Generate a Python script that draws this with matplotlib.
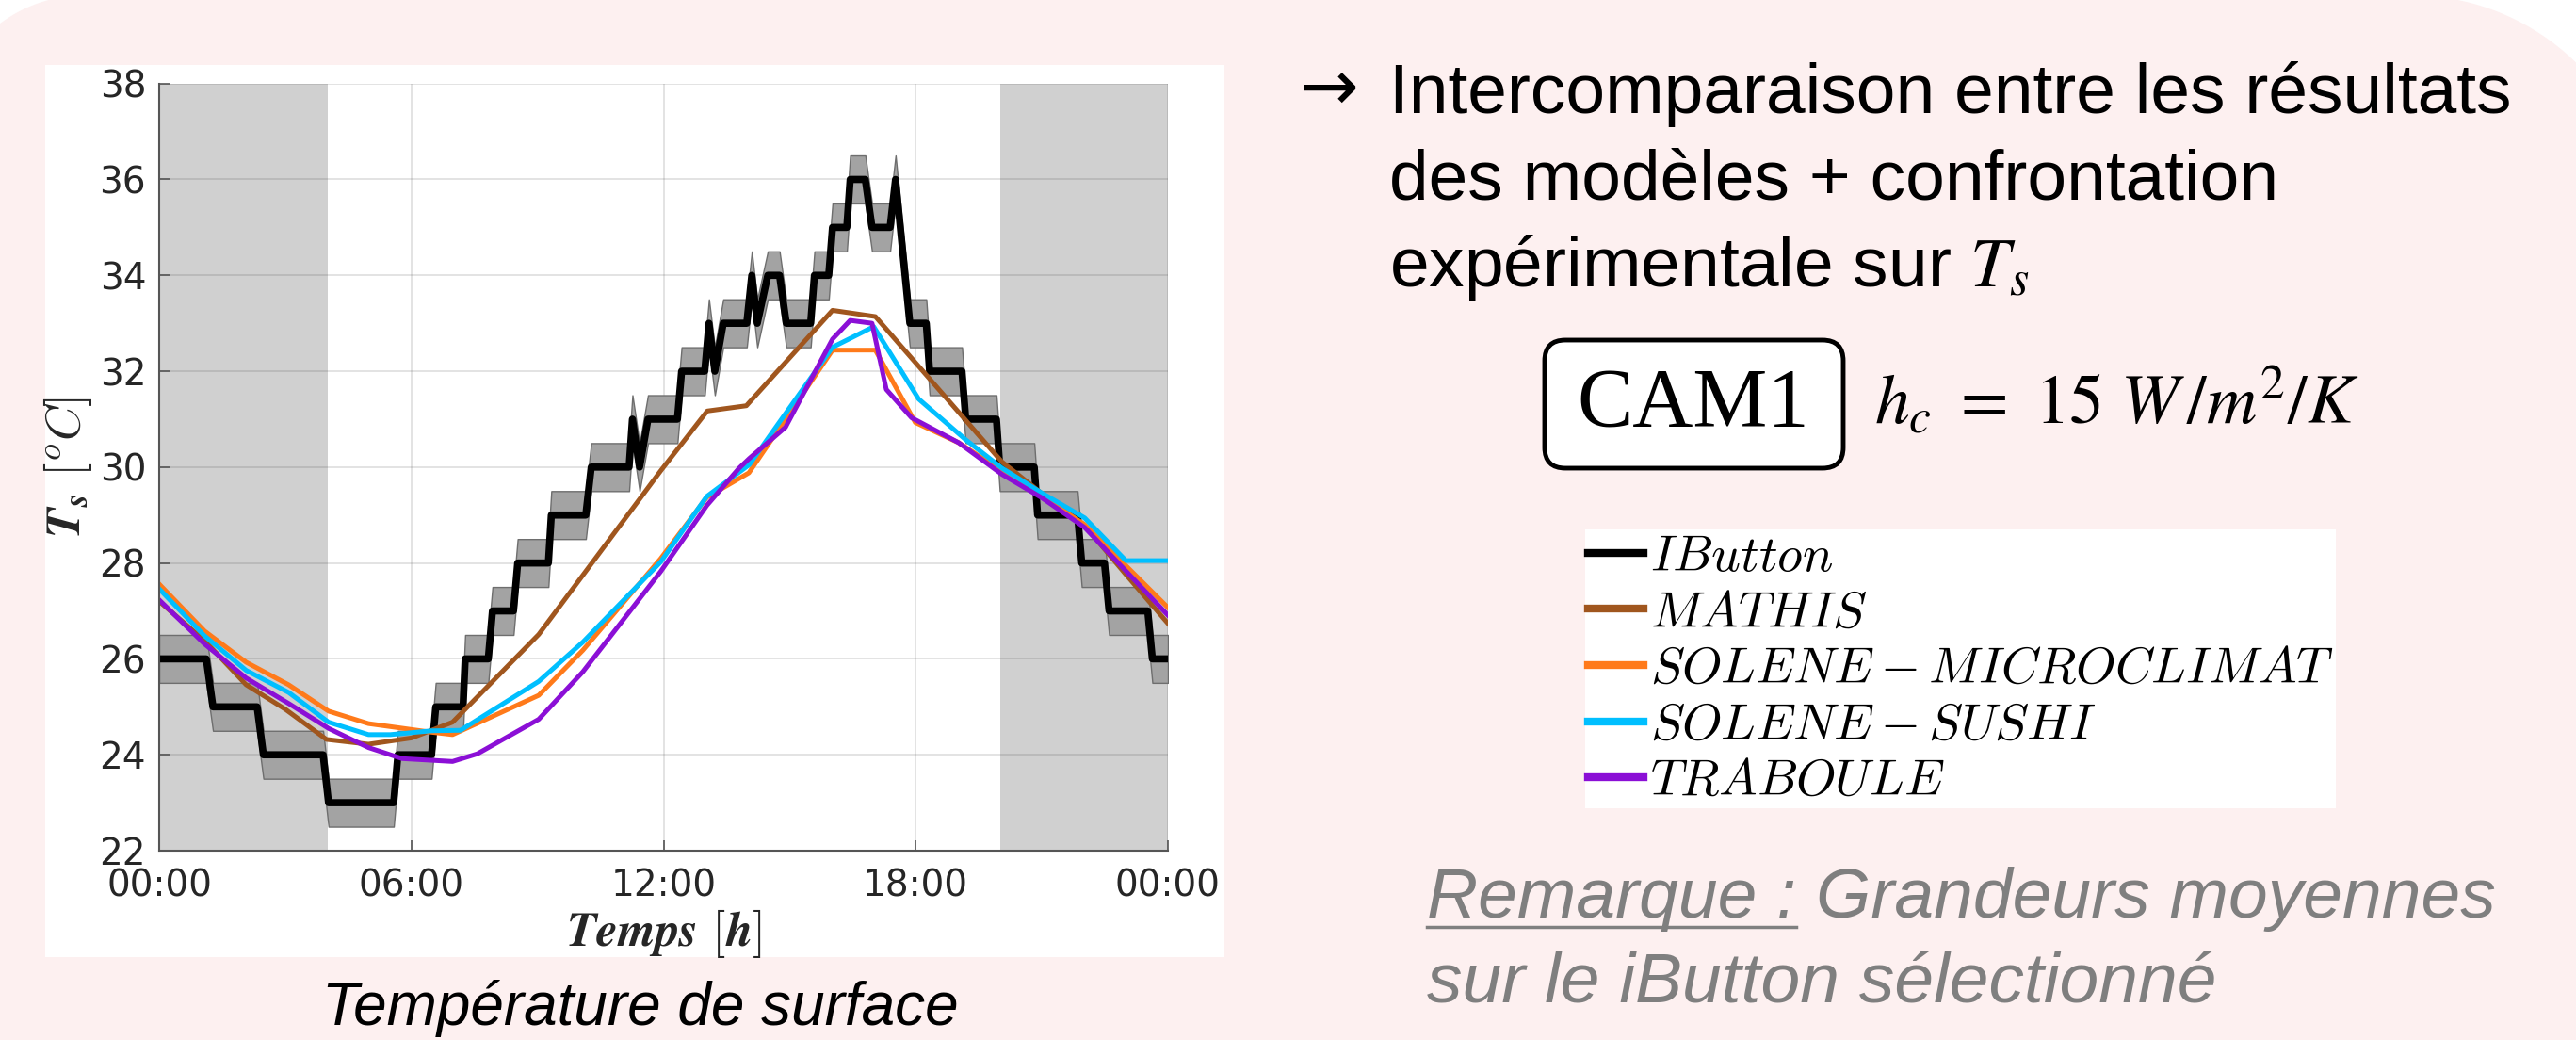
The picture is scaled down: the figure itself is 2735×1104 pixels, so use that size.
import numpy as np
import matplotlib
matplotlib.use('Agg')
import matplotlib.pyplot as plt
from matplotlib.patches import Polygon, Rectangle, FancyBboxPatch
from matplotlib.lines import Line2D

plt.rcParams['font.family'] = 'DejaVu Sans'
plt.rcParams['mathtext.fontset'] = 'cm'

W, H = 2735, 1104   # taille de l'image en pixels (dpi = 100)

# --- Données (heure, température de surface) ---
ibutton_t = [0, 1.12, 1.28, 2.33, 2.48, 3.9, 4.03, 5.58, 5.68, 6.48, 6.58, 7.23, 7.28, 7.83,
             7.93, 8.43, 8.53, 9.26, 9.33, 10.15, 10.28, 11.18, 11.26, 11.43, 11.63, 12.33,
             12.43, 12.98, 13.08, 13.22, 13.42, 13.98, 14.1, 14.23, 14.48, 14.76, 14.92,
             15.5, 15.59, 15.93, 16.02, 16.36, 16.44, 16.8, 16.96, 17.39, 17.52, 17.86,
             18.25, 18.33, 19.1, 19.19, 19.92, 20.0, 20.82, 20.9, 21.85, 21.95, 22.49,
             22.6, 23.52, 23.63, 24.0]
ibutton_T = [26, 26, 25, 25, 24, 24, 23, 23, 24, 24, 25, 25, 26, 26,
             27, 27, 28, 28, 29, 29, 30, 30, 31, 30, 31, 31,
             32, 32, 33, 32, 33, 33, 34, 33, 34, 34, 33,
             33, 34, 34, 35, 35, 36, 36, 35, 35, 36, 33,
             33, 32, 32, 31, 31, 30, 30, 29, 29, 28, 28,
             27, 27, 26, 26]
ibutton_err = 0.5

mathis_t = [0, 1.08, 2.07, 3.0, 3.98, 4.98, 6.0, 6.48, 6.98, 9.03, 11.93, 13.04, 13.97,
            16.02, 17.04, 20.05, 21.0, 22.02, 23.0, 24.0]
mathis_T = [27.2, 26.38, 25.46, 24.95, 24.32, 24.22, 24.35, 24.51, 24.68, 26.51, 29.92,
            31.17, 31.28, 33.27, 33.14, 30.11, 29.45, 28.78, 27.76, 26.74]

micro_t = [0, 1.08, 2.07, 3.08, 4.03, 4.98, 6.48, 6.98, 9.03, 10.08, 11.93, 13.03, 14.03,
           16.02, 17.04, 17.99, 19.02, 20.05, 21.0, 22.02, 24.0]
micro_T = [27.56, 26.58, 25.93, 25.46, 24.91, 24.65, 24.47, 24.42, 25.24, 26.18, 28.09,
           29.37, 29.88, 32.44, 32.44, 30.93, 30.51, 29.92, 29.39, 28.8, 27.07]

sushi_t = [0, 1.08, 2.07, 3.08, 4.03, 4.98, 5.5, 6.48, 7.17, 9.03, 10.08, 11.93, 13.03,
           14.04, 16.02, 17.0, 18.07, 19.19, 20.05, 21.0, 22.02, 23.0, 24.0]
sushi_T = [27.46, 26.48, 25.76, 25.3, 24.68, 24.42, 24.42, 24.5, 24.51, 25.53, 26.35,
           28.02, 29.39, 30.05, 32.5, 32.93, 31.42, 30.57, 29.98, 29.46, 28.94, 28.05, 28.05]

traboule_t = [0, 1.08, 2.07, 3.08, 4.03, 4.98, 5.78, 6.98, 7.57, 9.03, 10.08, 11.93, 13.03,
              13.8, 14.04, 14.9, 16.02, 16.44, 16.96, 17.3, 17.9, 19.02, 20.05, 21.0,
              22.02, 24.0]
traboule_T = [27.23, 26.31, 25.6, 25.07, 24.55, 24.15, 23.92, 23.86, 24.02, 24.74, 25.73,
              27.82, 29.2, 29.98, 30.18, 30.83, 32.67, 33.06, 33.0, 31.62, 31.03, 30.51,
              29.85, 29.36, 28.74, 26.91]

nuit = [(0, 4.0), (20.0, 24.0)]
xticks = [0, 6, 12, 18, 24]
xtick_labels = ['00:00', '06:00', '12:00', '18:00', '00:00']
yticks = [22, 24, 26, 28, 30, 32, 34, 36, 38]

noms = [r'$IButton$', r'$MATHIS$', r'$SOLENE-MICROCLIMAT$', r'$SOLENE-SUSHI$', r'$TRABOULE$']
couleurs = ['#000000', '#A0561E', '#FF7A1A', '#00BFFF', '#8B0FD6']


def fx(x):
    return x / W


def fy(y):
    return 1 - y / H


fig = plt.figure(figsize=(W / 100, H / 100), dpi=100, facecolor='white')
pouce = fig.dpi_scale_trans

# fond rose arrondi (coordonnées en pixels -> pouces)
a1 = np.linspace(np.pi, np.pi / 2, 40)
a2 = np.linspace(np.pi / 2, 0, 40)
pts = [(90 + 150 * np.cos(a), 145 - 150 * np.sin(a)) for a in a1]
pts += [(2560 + 250 * np.cos(a), 245 - 250 * np.sin(a)) for a in a2]
pts += [(2810, 1200), (-60, 1200)]
pts = [(x / 100, (H - y) / 100) for x, y in pts]
fig.add_artist(Polygon(pts, closed=True, facecolor='#FDF0F0', edgecolor='none',
                       transform=pouce, zorder=-2))
# cadre blanc du graphique
fig.add_artist(Rectangle((48 / 100, (H - 1016) / 100), (1300 - 48) / 100, (1016 - 69) / 100,
                         facecolor='white', edgecolor='none', transform=pouce, zorder=-1))

# --- Graphique ---
ax = fig.add_axes([fx(169), fy(903), (1240 - 169) / W, (903 - 88.7) / H])
for d, f in nuit:
    ax.axvspan(d, f, color='#D0D0D0', lw=0, zorder=0.2)

t = np.array(ibutton_t)
T = np.array(ibutton_T, dtype=float)
ax.fill_between(t, T - ibutton_err, T + ibutton_err, facecolor='#A3A3A3',
                edgecolor='#6E6E6E', lw=1, zorder=1.5)
ax.plot(t, T, color=couleurs[0], lw=5.5, zorder=2)
series = [(mathis_t, mathis_T), (micro_t, micro_T), (sushi_t, sushi_T), (traboule_t, traboule_T)]
for i, (st, sT) in enumerate(series):
    ax.plot(st, sT, color=couleurs[i + 1], lw=3.6, zorder=2.1 + 0.1 * i)

ax.set_xlim(0, 24)
ax.set_ylim(22, 38)
ax.set_xticks(xticks)
ax.set_xticklabels(xtick_labels)
ax.set_yticks(yticks)
ax.set_axisbelow(True)
ax.grid(True, color='#262626', alpha=0.15, lw=1.2)
for s in ['top', 'right']:
    ax.spines[s].set_visible(False)
for s in ['left', 'bottom']:
    ax.spines[s].set_color('#555555')
    ax.spines[s].set_linewidth(1.5)
ax.tick_params(direction='in', length=8, width=1.2, color='#555555',
               labelsize=28, labelcolor='#262626')
ax.tick_params(axis='x', pad=13)
ax.tick_params(axis='y', pad=10)

ax.set_xlabel(r'$\boldsymbol{Temps}\ [\boldsymbol{h}]$', fontsize=37, color='#262626')
ax.xaxis.label.set_va('center')
ax.xaxis.set_label_coords(0.5, -0.108)
ax.set_ylabel(r'$\boldsymbol{T}_{\boldsymbol{s}}\ [^oC]$', fontsize=37, color='#262626')
ax.yaxis.label.set_va('center')
ax.yaxis.set_label_coords(-0.0906, 0.5)

fig.text(fx(680), fy(1088), 'Température de surface', ha='center', va='baseline',
         family='Liberation Sans', style='italic', fontsize=46)

# --- Texte de droite ---
fs = 54
fig.text(fx(1380), fy(118), '→', fontsize=fs, va='baseline', family='DejaVu Sans')
fig.text(fx(1475), fy(120), 'Intercomparaison entre les résultats', fontsize=fs,
         va='baseline', family='Liberation Sans')
fig.text(fx(1475), fy(212), 'des modèles + confrontation', fontsize=fs,
         va='baseline', family='Liberation Sans')
fig.text(fx(1475), fy(304), r'expérimentale sur $T_s$', fontsize=fs,
         va='baseline', family='Liberation Sans', math_fontfamily='stix')

fig.add_artist(FancyBboxPatch((1640 / 100, (H - 497) / 100), 317 / 100, 136 / 100,
                              boxstyle='round,pad=0,rounding_size=0.22',
                              facecolor='white', edgecolor='black', lw=3.5,
                              transform=pouce, zorder=2))
fig.text(fx(1798), fy(430), 'CAM1', ha='center', va='center', family='Liberation Serif',
         fontsize=64, zorder=3)
fig.text(fx(1990), fy(450), r'$h_c\ =\ 15\ W\,/m^2/K$', va='baseline', fontsize=53,
         math_fontfamily='stix')

# légende
poignees = [Line2D([], [], color=c, lw=6) for c in couleurs]
fig.legend(poignees, noms, loc='upper left', bbox_to_anchor=(fx(1683), fy(562)),
           frameon=True, facecolor='white', edgecolor='none', fancybox=False, framealpha=1,
           fontsize=39, handlelength=1.1, handletextpad=0.12, labelspacing=0.14,
           borderpad=0.05, borderaxespad=0)

# remarque
gris = '#7F7F7F'
fig.text(fx(1515), fy(974), 'Remarque : Grandeurs moyennes', color=gris, style='italic',
         fontsize=fs, va='baseline', family='Liberation Sans')
fig.text(fx(1515), fy(1064), 'sur le iButton sélectionné', color=gris, style='italic',
         fontsize=fs, va='baseline', family='Liberation Sans')
mesure = fig.text(fx(1515), fy(974), 'Remarque :', color='none', style='italic',
                  fontsize=fs, va='baseline', family='Liberation Sans')
fig.canvas.draw()
bb = mesure.get_window_extent(fig.canvas.get_renderer())
mesure.remove()
y_sous = (H - 984) / 100
fig.add_artist(Line2D([bb.x0 / 100, bb.x1 / 100], [y_sous, y_sous], color=gris, lw=2.5,
                      transform=pouce))

fig.savefig('out.png', dpi=100, facecolor='white')
